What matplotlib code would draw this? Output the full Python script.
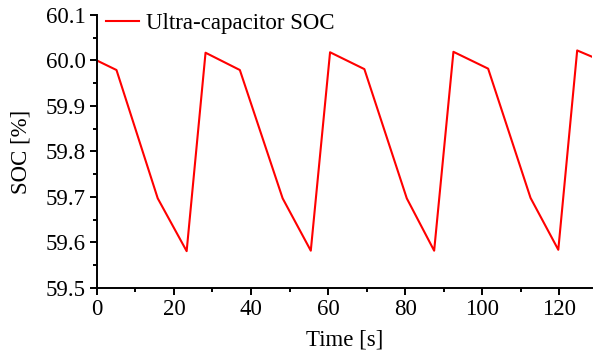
import matplotlib
matplotlib.use("Agg")
import matplotlib.pyplot as plt
from matplotlib.ticker import MultipleLocator

time_s = [0, 5.1, 15.8, 23.3, 28.2, 37.1, 48.2, 55.5, 60.5, 69.4, 80.4, 87.5,
          92.5, 101.5, 112.5, 119.7, 124.6, 128.5]
soc = [60.0, 59.979, 59.697, 59.581, 60.017, 59.979, 59.697, 59.582, 60.018,
       59.981, 59.697, 59.582, 60.019, 59.982, 59.698, 59.584, 60.022, 60.008]

plt.rcParams['font.family'] = ['Liberation Serif', 'DejaVu Serif']

fs = 16.5
fig = plt.figure(figsize=(5.94, 3.56), dpi=100)
ax = fig.add_axes([0.163, 0.191, 0.834, 0.767])
ax.plot(time_s, soc, color='#ff0000', lw=1.5, label='Ultra-capacitor SOC')

ax.set_xlim(0, 128.5)
ax.set_ylim(59.5, 60.1)
ax.xaxis.set_major_locator(MultipleLocator(20))
ax.xaxis.set_minor_locator(MultipleLocator(10))
ax.yaxis.set_major_locator(MultipleLocator(0.1))
ax.yaxis.set_minor_locator(MultipleLocator(0.05))
ax.yaxis.set_major_formatter(matplotlib.ticker.FormatStrFormatter('%.1f'))

for s in ['top', 'right']:
    ax.spines[s].set_visible(False)
for s in ['left', 'bottom']:
    ax.spines[s].set_linewidth(1.4)

ax.tick_params(which='major', direction='out', length=5, width=1.4, labelsize=fs, pad=3)
ax.tick_params(which='minor', direction='out', length=3, width=1.4)

ax.set_xlabel('Time [s]', fontsize=fs, labelpad=7)
ax.set_ylabel('SOC [%]', fontsize=fs, labelpad=10)

ax.legend(loc='upper left', frameon=False, fontsize=fs, handlelength=1.45,
          borderaxespad=0.0, bbox_to_anchor=(0.0, 1.04), handletextpad=0.3)

fig.savefig('out.png', dpi=100)
